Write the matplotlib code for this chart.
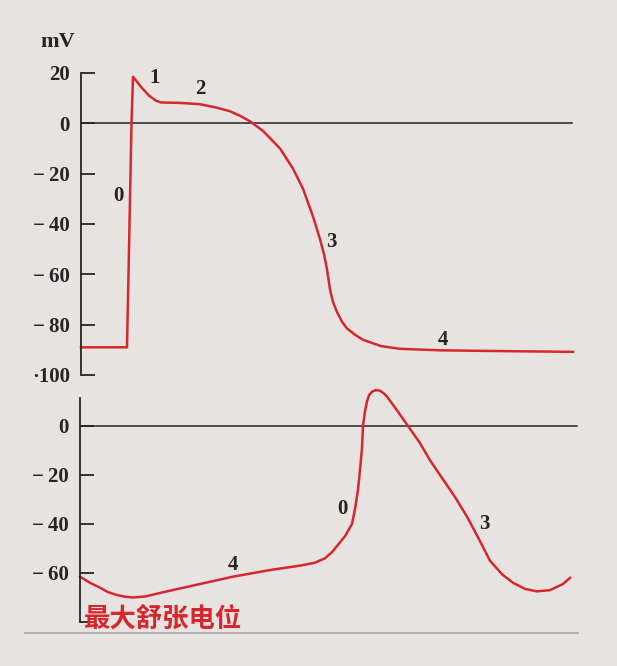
import matplotlib
matplotlib.use("Agg")
import matplotlib.pyplot as plt
from matplotlib.lines import Line2D

# 心室肌细胞动作电位 (上) / 窦房结自律细胞 (下)
t_vent = [0, 46, 47.5, 49, 50.5, 52, 60, 68, 75, 80, 100, 119, 135, 149, 160, 169,
          182, 199, 212, 222, 232, 239, 243, 246, 249, 252, 256, 261, 266, 274, 282,
          289, 300, 319, 360, 420, 492]
v_vent = [-89, -89, -60, -30, 0, 18.5, 14.5, 11, 9, 8.3, 8.1, 7.6, 6.3, 4.8, 2.8, 0.8,
          -3, -10, -18, -26, -37, -46, -52, -58, -66, -71, -75, -78.8, -81.5, -84, -86,
          -87, -88.5, -89.6, -90.2, -90.5, -90.8]

t_pace = [0, 10, 20, 28, 37, 45, 53, 65, 87, 120, 153, 190, 220, 235, 245, 252, 258,
          265, 272, 275, 278, 280, 282, 283, 285, 287, 289, 292, 296, 300, 304, 307,
          315, 328, 340, 350, 360, 375, 387, 400, 410, 422, 433, 445, 457, 470, 483, 490]
v_pace = [-61.5, -64, -66, -67.8, -69, -69.7, -70, -69.6, -67.5, -64.5, -61.5, -58.8,
          -57, -55.8, -54, -51.5, -48.5, -45, -40, -34, -26, -18, -9, 0, 6, 10, 12.5,
          14, 14.6, 14.4, 13.2, 12, 7.5, 0, -7, -14, -20, -29, -37, -47, -55, -60.5,
          -64, -66.5, -67.5, -67, -64.5, -62]

ticks_top = [20, 0, -20, -40, -60, -80, -100]
labels_top = ["20", "0", "−\u200920", "−\u200940", "−\u200960", "−\u200980", "·100"]
ticks_bot = [0, -20, -40, -60, -80]
labels_bot = ["0", "−\u200920", "−\u200940", "−\u200960", ""]

phase_top = [("0", 37, -29), ("1", 74, 18), ("2", 119, 13.6), ("3", 250, -47), ("4", 362, -86)]
phase_bot = [("4", 153, -56.7), ("0", 262, -34), ("3", 404, -40)]

bg = "#e7e3e1"
red = "#d6282c"
ink = "#262424"
serif = "Liberation Serif"
W, H = 617, 666

fig = plt.figure(figsize=(W / 100, H / 100), dpi=100, facecolor=bg)


def make_axes(left, top, bottom, ylim):
    ax = fig.add_axes([left / W, 1 - bottom / H, (590 - left) / W, (bottom - top) / H])
    ax.set_facecolor("none")
    for s in ["top", "right", "bottom"]:
        ax.spines[s].set_visible(False)
    ax.spines["left"].set_color(ink)
    ax.spines["left"].set_linewidth(1.3)
    ax.set_xlim(0, 590 - left)
    ax.set_ylim(*ylim)
    ax.set_xticks([])
    ax.tick_params(axis="y", direction="in", length=10, width=1.3, color=ink,
                   pad=8, labelcolor=ink)
    return ax


ax1 = make_axes(81, 73, 375, (-100, 20))
ax1.set_yticks(ticks_top, labels_top, family=serif, fontsize=15, weight="bold")
ax1.plot([0, 491], [0, 0], color=ink, lw=1.1)
ax1.plot(t_vent, v_vent, color=red, lw=1.8, solid_joinstyle="round", clip_on=False)
for txt, x, y in phase_top:
    ax1.text(x, y, txt, ha="center", va="center", fontsize=15, weight="bold",
             family=serif, color=ink)

ax2 = make_axes(80, 398, 622, (-80, 11.4))
ax2.set_yticks(ticks_bot, labels_bot, family=serif, fontsize=15, weight="bold")
ax2.plot([0, 497], [0, 0], color=ink, lw=1.1)
ax2.plot(t_pace, v_pace, color=red, lw=1.8, solid_joinstyle="round", clip_on=False)
for txt, x, y in phase_bot:
    ax2.text(x, y, txt, ha="center", va="center", fontsize=15, weight="bold",
             family=serif, color=ink)

fig.text(58 / W, 1 - 42 / H, "mV", ha="center", va="center", fontsize=16,
         family=serif, weight="bold", color=ink)
fig.text(84 / W, 1 - 619 / H, "最大舒张电位", ha="left", va="center", fontsize=19,
         family=["Noto Sans CJK SC", "DejaVu Sans"], weight="bold", color=red)
fig.add_artist(Line2D([25 / W, 578 / W], [1 - 633 / H, 1 - 633 / H], color="#a9a6a5", lw=1.2))

fig.savefig("out.png", dpi=100, facecolor=bg)
